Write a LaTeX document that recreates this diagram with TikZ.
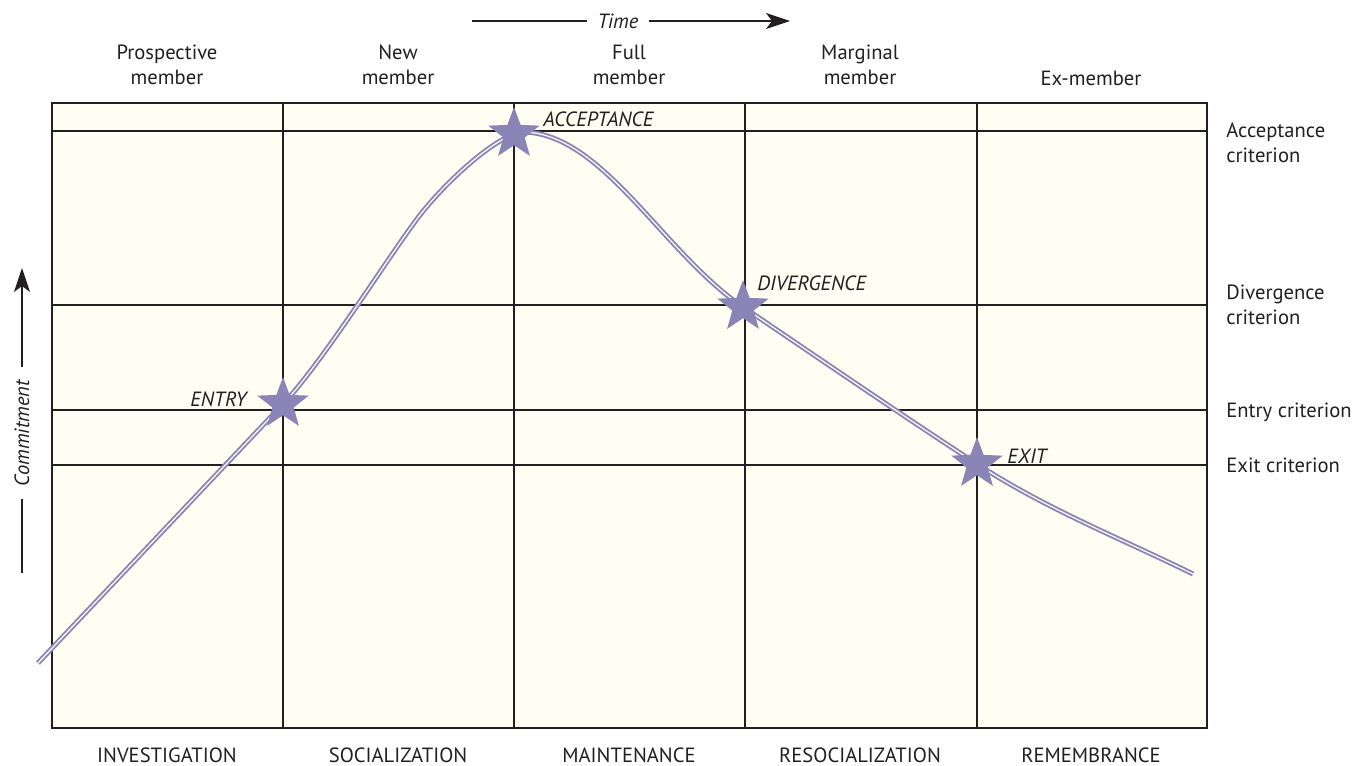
\documentclass[tikz,border=0pt]{standalone}
\usepackage{fontspec}
\setmainfont{PT Sans}
\usetikzlibrary{arrows.meta,shapes.geometric,positioning}
\definecolor{paper}{RGB}{255,254,242}
\definecolor{ink}{RGB}{35,31,32}
\definecolor{lilac}{RGB}{139,132,182}

\begin{document}
\begin{tikzpicture}[x=0.5pt, y=-0.5pt, font=\fontsize{10.3}{12.5}\selectfont, text=ink,
                    grid/.style = {draw=ink, line width=0.8pt},
                    role/.style = {align=center},
                    phase/.style = {inner sep=0pt},
                    crit/.style = {anchor=west, align=left, inner sep=0pt},
                    event/.style = {inner sep=0pt, font=\fontsize{10.3}{12}\selectfont\itshape},
                    evstar/.style = {star, star points=5, star point ratio=2.4, fill=lilac,
                                     inner sep=0pt, minimum size=27pt},
                    commit/.style = {draw=lilac, double=white, double distance=0.6pt,
                                     line width=0.95pt},
                    tip/.style = {-{Stealth[length=12pt, width=8pt, inset=3pt]}, draw=ink, line width=0.7pt}]
\useasboundingbox (0,0) rectangle (1364,765);
% grid of phases and criteria
\fill[paper] (52,103) rectangle (1207,728);
\foreach \x in {283,514,745,977}
  \draw[grid] (\x,103) -- (\x,728);
\foreach \y in {131,305,410,465}
  \draw[grid] (52,\y) -- (1207,\y);
\draw[grid, line width=1pt] (52,103) rectangle (1207,728);
% commitment curve
\coordinate (start) at (38,663);
\coordinate (e) at (283,404);
\coordinate (rise) at (420,215);
\coordinate (a) at (522,132);
\coordinate (d) at (743,307);
\coordinate (x) at (977,464);
\coordinate (stop) at (1193,574);
\draw[commit] (start) -- (e)
  .. controls (323,362) and (390,254) .. (rise)
  .. controls (445,183) and (495,136) .. (a)
  .. controls (602,132) and (663,253) .. (d)
  .. controls (820,359) and (900,414) .. (x)
  .. controls (1047,509.5) and (1120,538) .. (stop);
\node[evstar] (entry) at (283,404) {};
\node[evstar] (accept) at (514,134) {};
\node[evstar] (diverge) at (743,307) {};
\node[evstar] (exit) at (977,464) {};
\node[event, anchor=east] (entrylbl) at (247,399) {ENTRY};
\node[event, anchor=west] (acceptlbl) at (543,119) {ACCEPTANCE};
\node[event, anchor=west] (divergelbl) at (757,283) {DIVERGENCE};
\node[event, anchor=west] (exitlbl) at (1007,456) {EXIT};
% member roles
\node[role] (prosp) at (167,65) {Prospective\\member};
\node[role] (new) at (398,65) {New\\member};
\node[role] (full) at (629,65) {Full\\member};
\node[role] (marg) at (860,65) {Marginal\\member};
\node[role] (ex) at (1091,78) {Ex-member};
% phases
\node[phase] (invest) at (167,755) {INVESTIGATION};
\node[phase] (social) at (398,755) {SOCIALIZATION};
\node[phase] (maint) at (629,755) {MAINTENANCE};
\node[phase] (resoc) at (860,755) {RESOCIALIZATION};
\node[phase] (remem) at (1091,755) {REMEMBRANCE};
% criteria
\node[crit] (acrit) at (1226,143) {Acceptance\\criterion};
\node[crit] (dcrit) at (1226,305) {Divergence\\criterion};
\node[crit, anchor=base west] (ecrit) at (1226,417) {Entry criterion};
\node[crit, anchor=base west] (xcrit) at (1226,472) {Exit criterion};
% axes
\node[event, inner sep=5pt] (time) at (618,21) {Time};
\coordinate (t0) at (472,21);
\coordinate (t1) at (790,21);
\draw[draw=ink, line width=0.7pt] (t0) -- (time.west);
\draw[tip] (time.east) -- (t1);
\node[event, rotate=90, inner sep=6pt] (commitlbl) at (22,433) {Commitment};
\coordinate (c0) at (22,573);
\coordinate (c1) at (22,268);
\draw[draw=ink, line width=0.7pt] (c0) -- (commitlbl.west);
\draw[tip] (commitlbl.east) -- (c1);
\end{tikzpicture}
\end{document}
